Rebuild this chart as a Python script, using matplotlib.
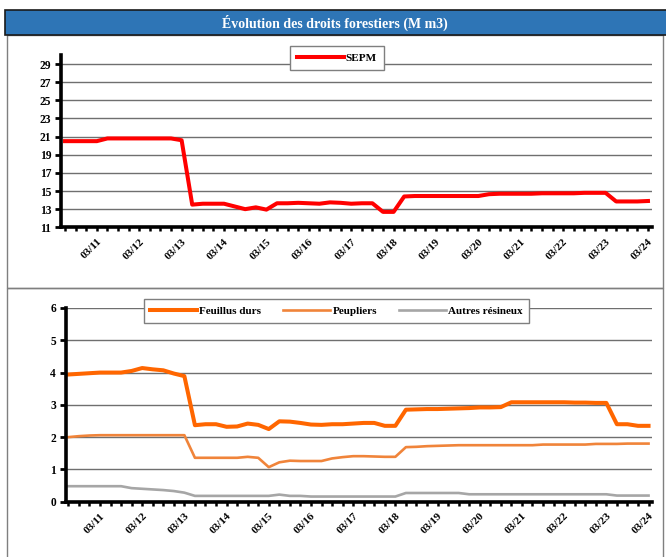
import numpy as np
import matplotlib
matplotlib.use("Agg")
import matplotlib.pyplot as plt
from matplotlib.patches import Rectangle
from matplotlib.lines import Line2D

plt.rcParams['font.family'] = ['Liberation Serif', 'DejaVu Serif']
plt.rcParams['font.weight'] = 'bold'

# quarterly points, 06/10 .. 03/24 ; one label per March
labels = ["03/11", "03/12", "03/13", "03/14", "03/15", "03/16", "03/17",
          "03/18", "03/19", "03/20", "03/21", "03/22", "03/23", "03/24"]

sepm = [20.5, 20.5, 20.5, 20.5, 20.8, 20.8, 20.8, 20.8, 20.8, 20.8, 20.8, 20.6,
        13.5, 13.6, 13.6, 13.6, 13.3, 13.0, 13.2, 12.95, 13.65, 13.65, 13.7, 13.65,
        13.6, 13.75, 13.7, 13.6, 13.65, 13.65, 12.7, 12.7, 14.4, 14.45, 14.45, 14.45,
        14.45, 14.45, 14.45, 14.45, 14.65, 14.7, 14.7, 14.7, 14.7, 14.75, 14.75, 14.75,
        14.75, 14.8, 14.8, 14.8, 13.85, 13.85, 13.85, 13.9]

feuillus = [3.94, 3.96, 3.98, 4.0, 4.0, 4.0, 4.05, 4.14, 4.1, 4.07, 3.97, 3.89,
            2.37, 2.4, 2.4, 2.32, 2.33, 2.42, 2.38, 2.25, 2.49, 2.48, 2.44, 2.39,
            2.38, 2.4, 2.4, 2.42, 2.44, 2.44, 2.35, 2.35, 2.85, 2.86, 2.87, 2.87,
            2.88, 2.89, 2.9, 2.92, 2.92, 2.93, 3.08, 3.08, 3.08, 3.08, 3.08, 3.08,
            3.07, 3.07, 3.06, 3.06, 2.4, 2.4, 2.35, 2.35]

peupliers = [2.0, 2.03, 2.05, 2.06, 2.06, 2.06, 2.06, 2.06, 2.06, 2.06, 2.06, 2.06,
             1.36, 1.36, 1.36, 1.36, 1.36, 1.39, 1.36, 1.07, 1.22, 1.27, 1.26, 1.26,
             1.26, 1.34, 1.38, 1.41, 1.41, 1.4, 1.39, 1.39, 1.69, 1.7, 1.72, 1.73,
             1.74, 1.75, 1.75, 1.75, 1.75, 1.75, 1.75, 1.75, 1.75, 1.77, 1.77, 1.77,
             1.77, 1.77, 1.79, 1.79, 1.79, 1.8, 1.8, 1.8]

autres = [0.48, 0.48, 0.48, 0.48, 0.48, 0.48, 0.42, 0.4, 0.38, 0.36, 0.33, 0.28,
          0.18, 0.18, 0.18, 0.18, 0.18, 0.18, 0.18, 0.18, 0.22, 0.18, 0.18, 0.16,
          0.16, 0.16, 0.16, 0.16, 0.16, 0.16, 0.16, 0.16, 0.27, 0.27, 0.27, 0.27,
          0.27, 0.27, 0.23, 0.23, 0.23, 0.23, 0.23, 0.23, 0.23, 0.23, 0.23, 0.23,
          0.23, 0.23, 0.23, 0.23, 0.19, 0.19, 0.19, 0.19]

W, H = 666, 557
fig = plt.figure(figsize=(W / 100, H / 100), dpi=100)


def box(x0, y0, x1, y1):
    # pixel box (top-left origin) -> figure fraction
    return [x0 / W, 1 - y1 / H, (x1 - x0) / W, (y1 - y0) / H]


def frame(x0, y0, x1, y1, **kw):
    b = box(x0, y0, x1, y1)
    fig.patches.append(Rectangle((b[0], b[1]), b[2], b[3],
                                 transform=fig.transFigure, **kw))


# panel frames and header
frame(7, 35, 663, 288, facecolor='none', edgecolor='#7f7f7f', lw=1, zorder=-1)
frame(7, 288, 663, 560, facecolor='none', edgecolor='#7f7f7f', lw=1, zorder=-1)
frame(5, 10, 668, 35, facecolor='#2e75b6', edgecolor='#1a1a1a', lw=1.2)
fig.text(335 / W, 1 - 23 / H, "Évolution des droits forestiers (M m3)",
         color='white', fontsize=10, fontweight='bold', ha='center', va='center')

x = np.arange(len(sepm))
lab_pos = np.arange(3, len(sepm), 4)


def style(ax):
    for s in ['top', 'right']:
        ax.spines[s].set_visible(False)
    for s in ['left', 'bottom']:
        ax.spines[s].set_linewidth(2.6)
        ax.spines[s].set_color('black')
    ax.set_xticks(lab_pos)
    ax.set_xticks(x, minor=True)
    ax.set_xticklabels(labels, rotation=45, ha='right', rotation_mode='anchor',
                       fontsize=8, fontweight='bold')
    ax.tick_params(axis='x', which='both', length=3, width=1.8, direction='out', pad=4)
    ax.tick_params(axis='y', length=4, width=2, labelsize=8.3, pad=3)
    for t in ax.get_yticklabels():
        t.set_fontweight('bold')
    ax.grid(axis='y', color='#6f6f6f', lw=1)
    ax.set_axisbelow(True)
    ax.patch.set_alpha(0)


# top panel
ax1 = fig.add_axes(box(61, 55, 652, 227.3))
ax1.plot(x, sepm, color='#ff0000', lw=2.9, solid_joinstyle='round')
ax1.set_xlim(-0.38, 55.38)
ax1.set_ylim(11, 30)
ax1.set_yticks(np.arange(11, 30, 2))
style(ax1)
fig.legend(handles=[Line2D([], [], color='#ff0000', lw=2.9)], labels=["SEPM"],
           loc='center', bbox_to_anchor=(337 / W, 1 - 58 / H), fancybox=False,
           edgecolor='#7f7f7f', framealpha=1, prop={'weight': 'bold', 'size': 8},
           handlelength=4.2, handletextpad=0.2, borderpad=0.6, borderaxespad=0)

# bottom panel
ax2 = fig.add_axes(box(65.7, 308, 651.7, 501.7))
ax2.plot(x, feuillus, color='#ff6600', lw=2.9, solid_joinstyle='round', label="Feuillus durs")
ax2.plot(x, peupliers, color='#f0843a', lw=1.9, solid_joinstyle='round', label="Peupliers")
ax2.plot(x, autres, color='#a6a6a6', lw=1.9, solid_joinstyle='round', label="Autres résineux")
ax2.set_xlim(-0.25, 55.3)
ax2.set_ylim(0, 6)
ax2.set_yticks(np.arange(0, 7, 1))
style(ax2)
h, l = ax2.get_legend_handles_labels()
fig.legend(h, l, loc='center', ncol=3, bbox_to_anchor=(336.5 / W, 1 - 311 / H),
           fancybox=False, edgecolor='#7f7f7f', framealpha=1,
           prop={'weight': 'bold', 'size': 8}, handlelength=4.2,
           handletextpad=0.2, columnspacing=2.0, borderpad=0.6, borderaxespad=0)

fig.savefig("out.png", dpi=100)
